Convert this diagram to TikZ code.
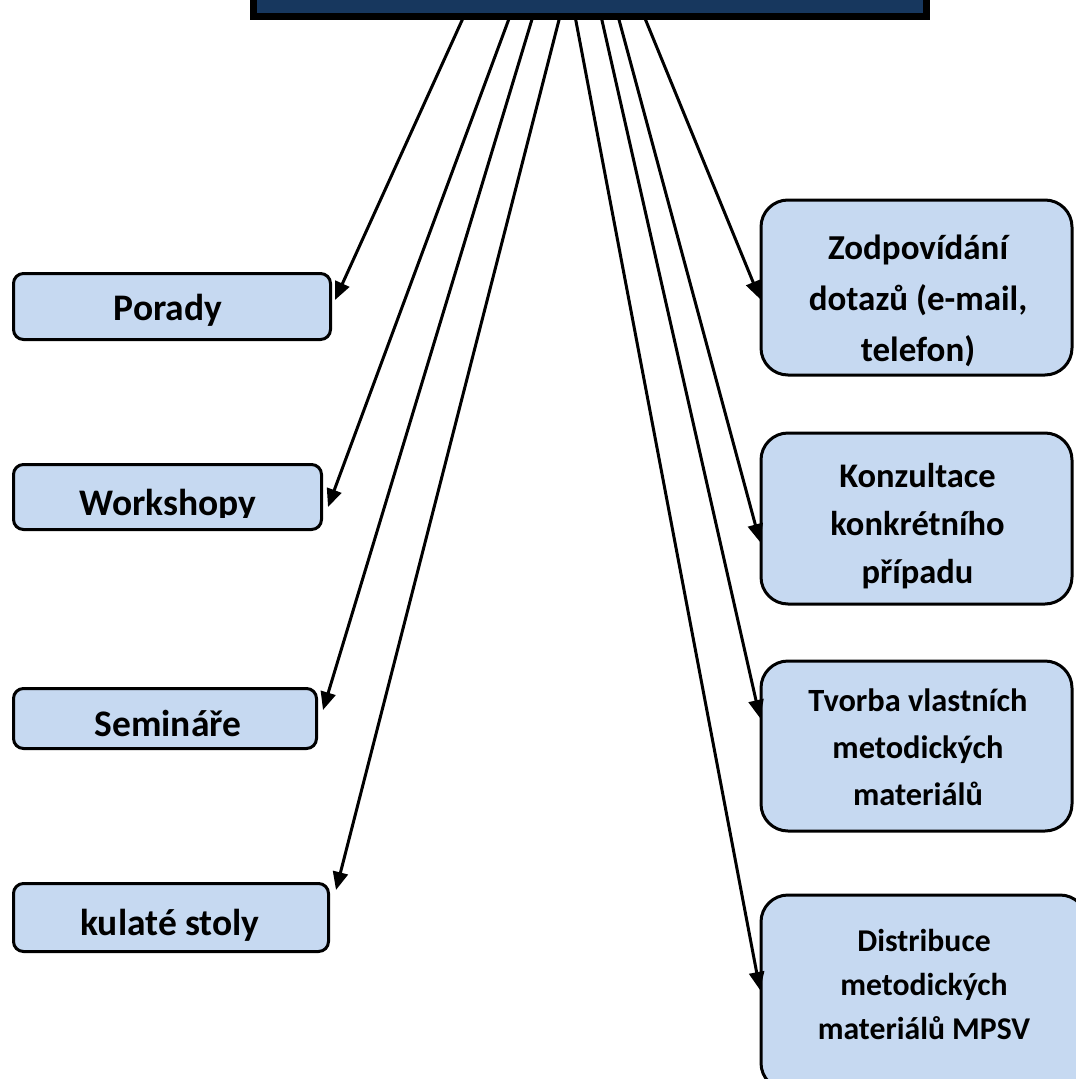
\documentclass[tikz,border=0pt]{standalone}
\usepackage{fontspec}
\setmainfont{Carlito}
\usetikzlibrary{arrows.meta}
\definecolor{navy}{RGB}{23,55,94}
\definecolor{boxblue}{RGB}{198,217,241}
\tikzset{
  lbox/.style={draw=black, line width=3pt, fill=boxblue, rounded corners=10pt, inner sep=0pt},
  rbox/.style={draw=black, line width=3pt, fill=boxblue, rounded corners=27pt, inner sep=0pt},
  ltxt/.style={inner sep=0pt, font=\fontsize{37.5}{44}\selectfont\bfseries},
  rtxt/.style={inner sep=0pt, align=center},
  arr/.style={line width=3pt, -{Triangle[length=18pt,width=15pt]}}
}
\begin{document}
\begin{tikzpicture}[x=1pt,y=-1pt]
\clip (0,0) rectangle (1076,1079);
% top box
\node[draw=black, line width=7pt, fill=navy, minimum width=673pt, minimum height=60pt, inner sep=0pt, anchor=south] (top) at (590,20) {};
% left boxes
\node[lbox, minimum width=317pt, minimum height=66pt] (porady) at (172,306.5) {};
\node[lbox, minimum width=308pt, minimum height=65pt] (workshopy) at (167.5,497) {};
\node[lbox, minimum width=303pt, minimum height=60pt] (seminare) at (165,718.5) {};
\node[lbox, minimum width=315pt, minimum height=68pt] (kulate) at (171,917.5) {};
% right boxes
\node[rbox, minimum width=311pt, minimum height=175pt] (zodp) at (916.5,287.5) {};
\node[rbox, minimum width=311pt, minimum height=171pt] (konz) at (916.5,518.5) {};
\node[rbox, minimum width=311pt, minimum height=170pt] (tvorba) at (916.5,746) {};
\node[rbox, minimum width=326pt, minimum height=195pt] (distr) at (924,992.5) {};
% texts
\node[ltxt] (poradyt) at (168,310.5) {Porady};
\begin{scope}
\clip (0,400) rectangle (400,517);
\node[ltxt] (workshopyt) at (168,505.5) {Workshopy};
\end{scope}
\node[ltxt] (seminaret) at (168,723) {Semináře};
\node[ltxt] (kulatet) at (170,925) {kulaté stoly};
\node[rtxt, font=\fontsize{35}{51}\selectfont\bfseries] (zodpt) at (918,300.5) {Zodpovídání\\dotazů (e-mail,\\telefon)};
\node[rtxt, font=\fontsize{34.5}{48}\selectfont\bfseries] (konzt) at (917.5,526) {Konzultace\\konkrétního\\případu};
\node[rtxt, font=\fontsize{32.4}{47}\selectfont\bfseries] (tvorbat) at (918,747.5) {Tvorba vlastních\\metodických\\materiálů};
\node[rtxt, font=\fontsize{31.7}{44}\selectfont\bfseries] (distrt) at (924,984) {Distribuce\\metodických\\materiálů MPSV};
% connectors
\draw[arr] ([xshift=-126pt,yshift=4pt]top.south) -- ([xshift=3pt,yshift=6.5pt]porady.east);
\draw[arr] ([xshift=-80pt,yshift=4pt]top.south) -- ([xshift=5pt,yshift=-10pt]workshopy.east);
\draw[arr] ([xshift=-57pt,yshift=4pt]top.south) -- ([xshift=5pt,yshift=8.5pt]seminare.east);
\draw[arr] ([xshift=-30pt,yshift=4pt]top.south) -- ([xshift=6pt,yshift=27.5pt]kulate.east);
\draw[arr] ([xshift=-15pt,yshift=4pt]top.south) -- ([xshift=0.5pt,yshift=2.5pt]distr.west);
\draw[arr] ([xshift=11pt,yshift=4pt]top.south) -- ([xshift=0.5pt,yshift=28pt]tvorba.west);
\draw[arr] ([xshift=28pt,yshift=4pt]top.south) -- ([xshift=0.5pt,yshift=-23.5pt]konz.west);
\draw[arr] ([xshift=54pt,yshift=4pt]top.south) -- ([xshift=0.5pt,yshift=-11.5pt]zodp.west);
\end{tikzpicture}
\end{document}
